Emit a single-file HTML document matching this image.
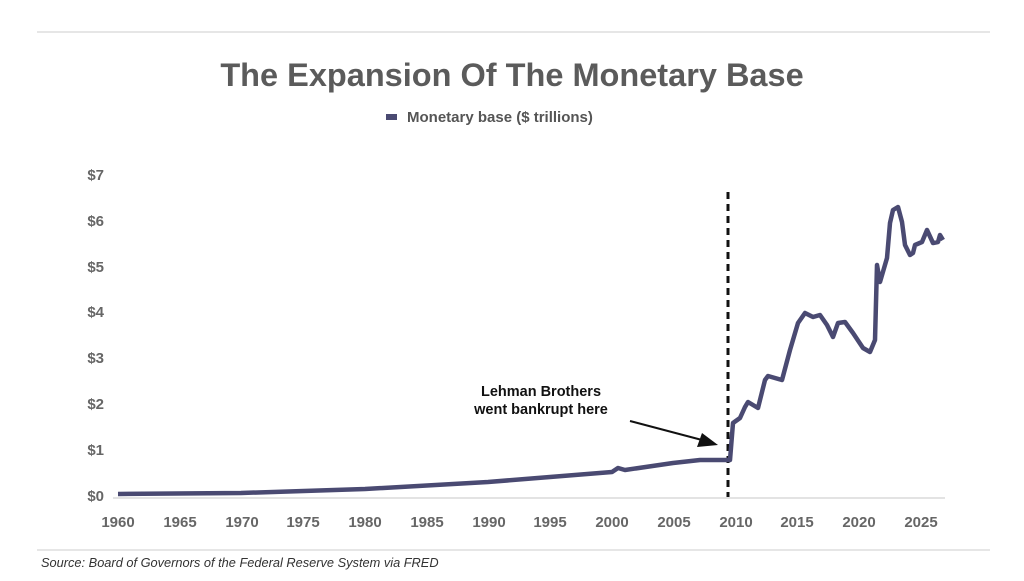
<!DOCTYPE html>
<html><head><meta charset="utf-8"><style>
html,body{margin:0;padding:0;background:#fff;}
body{width:1024px;height:576px;overflow:hidden;font-family:"Liberation Sans",sans-serif;}
</style></head><body>
<svg width="1024" height="576" viewBox="0 0 1024 576" xmlns="http://www.w3.org/2000/svg" font-family="Liberation Sans, sans-serif">
<line x1="37" y1="32" x2="990" y2="32" stroke="#e6e6e6" stroke-width="2"/>
<line x1="37" y1="550" x2="990" y2="550" stroke="#e6e6e6" stroke-width="2"/>
<text x="512" y="86" text-anchor="middle" font-size="32.5" font-weight="bold" fill="#5b5b5b">The Expansion Of The Monetary Base</text>
<rect x="386" y="114" width="11" height="6" fill="#4a4a72"/>
<text x="407" y="122" font-size="15" font-weight="bold" fill="#555">Monetary base ($ trillions)</text>
<g font-size="15" font-weight="bold" fill="#666" text-anchor="end">
<text x="104" y="501">$0</text><text x="104" y="455">$1</text><text x="104" y="409">$2</text><text x="104" y="363">$3</text>
<text x="104" y="317">$4</text><text x="104" y="272">$5</text><text x="104" y="226">$6</text><text x="104" y="180">$7</text>
</g>
<g font-size="15" font-weight="bold" fill="#666" text-anchor="middle">
<text x="118" y="527">1960</text><text x="180" y="527">1965</text><text x="242" y="527">1970</text><text x="303" y="527">1975</text>
<text x="365" y="527">1980</text><text x="427" y="527">1985</text><text x="489" y="527">1990</text><text x="550" y="527">1995</text>
<text x="612" y="527">2000</text><text x="674" y="527">2005</text><text x="736" y="527">2010</text><text x="797" y="527">2015</text>
<text x="859" y="527">2020</text><text x="921" y="527">2025</text>
</g>
<line x1="113" y1="498" x2="945" y2="498" stroke="#e3e3e3" stroke-width="2"/>
<line x1="728" y1="192" x2="728" y2="497" stroke="#111" stroke-width="3" stroke-dasharray="7,5"/>
<polyline fill="none" stroke="#4a4a72" stroke-width="4.5" stroke-linejoin="round" points="
118,494 241,493 365,489 488,482 550,477 612,472 618,468 625,470 673,463 700,460 730,460
733,423 740,418 745,407 748,402 758,408 765,380 768,376 782,380 790,350 798,323 805,313 813,317 820,315 827,325 833,337 838,323 845,322 853,333 863,348 870,352 875,340 877,265 880,282 887,258 890,223 893,210 898,207 902,222 905,245 910,255 913,253 915,245 922,242 927,230 933,243 938,242 940,235 943,240"/>
<text x="541" y="396" text-anchor="middle" font-size="14.5" font-weight="bold" fill="#111">Lehman Brothers</text>
<text x="541" y="414" text-anchor="middle" font-size="14.5" font-weight="bold" fill="#111">went bankrupt here</text>
<line x1="630" y1="421" x2="702" y2="440" stroke="#111" stroke-width="2"/>
<polygon points="718,445 697,447 702,433" fill="#111"/>
<text x="41" y="567" font-size="12.8" font-style="italic" fill="#333">Source: Board of Governors of the Federal Reserve System via FRED</text>
</svg>
</body></html>
